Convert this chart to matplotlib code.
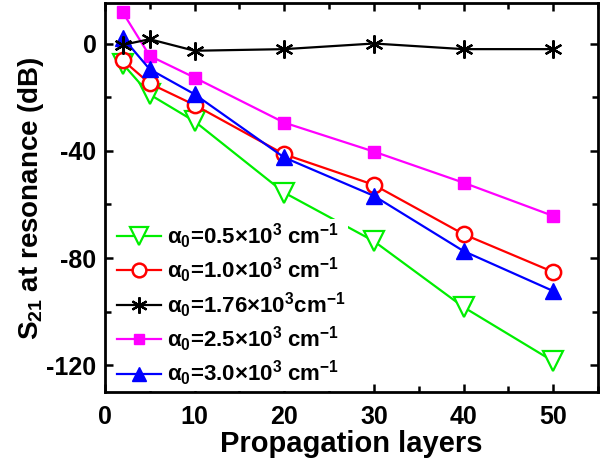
import matplotlib
matplotlib.use("Agg")
import matplotlib.pyplot as plt
from matplotlib.ticker import MultipleLocator

plt.rcParams['font.family'] = ['Liberation Sans', 'DejaVu Sans']
plt.rcParams['font.weight'] = 'bold'
plt.rcParams['mathtext.fontset'] = 'custom'
plt.rcParams['mathtext.rm'] = 'Liberation Sans:bold'
plt.rcParams['mathtext.it'] = 'Liberation Sans:bold'
plt.rcParams['mathtext.bf'] = 'Liberation Sans:bold'
plt.rcParams['mathtext.default'] = 'rm'
plt.rcParams['axes.unicode_minus'] = False

layers = [2, 5, 10, 20, 30, 40, 50]
s21_a05 = [-7.6, -19, -29, -55.6, -73.7, -98.3, -118.5]
s21_a10 = [-6.2, -14.9, -22.9, -41.3, -52.7, -71.1, -85.2]
s21_a176 = [-0.5, 1.6, -2.7, -2.1, 0, -2.1, -2.1]
s21_a25 = [11.6, -4.6, -12.7, -29.5, -40.3, -51.9, -64.3]
s21_a30 = [2.2, -9.6, -18.9, -42.5, -56.8, -77.4, -92.3]

labels = [
    r"α$_0$=0.5×10$^3$ cm$^{-1}$",
    r"α$_0$=1.0×10$^3$ cm$^{-1}$",
    r"α$_0$=1.76×10$^3$cm$^{-1}$",
    r"α$_0$=2.5×10$^3$ cm$^{-1}$",
    r"α$_0$=3.0×10$^3$ cm$^{-1}$",
]

fig = plt.figure(figsize=(6.06, 4.68), dpi=100)
ax = fig.add_axes([0.173, 0.162, 0.814, 0.831])

lw = 1.6
ax.plot(layers, s21_a05, color='#00ee00', lw=lw, marker='v', ms=14,
        mfc='white', mec='#00ee00', mew=1.6, label=labels[0], zorder=3)
ax.plot(layers, s21_a10, color='#ff0000', lw=lw, marker='o', ms=11,
        mfc='white', mec='#ff0000', mew=1.8, label=labels[1], zorder=4)
ax.plot(layers, s21_a176, color='black', lw=lw, marker=(6, 2, 0), ms=13,
        mec='black', mew=1.6, label=labels[2], zorder=5)
ax.plot(layers, s21_a25, color='#ff00ff', lw=lw, marker='s', ms=8,
        mfc='#ff00ff', mec='#ff00ff', label=labels[3], zorder=4)
ax.plot(layers, s21_a30, color='#0000ff', lw=lw, marker='^', ms=11,
        mfc='#0000ff', mec='#0000ff', label=labels[4], zorder=4)

ax.set_xlim(0, 55)
ax.set_ylim(-130, 15)
ax.xaxis.set_major_locator(MultipleLocator(10))
ax.xaxis.set_minor_locator(MultipleLocator(5))
ax.yaxis.set_major_locator(MultipleLocator(40))
ax.yaxis.set_minor_locator(MultipleLocator(20))
ax.tick_params(which='both', direction='in', top=True, right=True, width=1.8)
ax.tick_params(which='major', length=6, labelsize=18)
ax.tick_params(axis='x', which='major', pad=9)
ax.tick_params(axis='y', which='major', pad=6)
ax.tick_params(which='minor', length=4)
for sp in ax.spines.values():
    sp.set_linewidth(2)

ax.set_xlabel("Propagation layers", fontsize=21, fontweight='bold', labelpad=1)
ax.set_ylabel("S$_{21}$ at resonance (dB)", fontsize=20, fontweight='bold')
ax.yaxis.set_label_coords(-0.12, 0.5)

leg = ax.legend(loc='upper left', bbox_to_anchor=(0.02, 0.445), frameon=True,
                fontsize=16, handlelength=2.0, handletextpad=0.25,
                labelspacing=0.22, borderpad=0.1, borderaxespad=0.0,
                markerscale=0.9)
leg.get_frame().set_facecolor('white')
leg.get_frame().set_edgecolor('none')
leg.get_frame().set_alpha(1)
leg.set_zorder(6)

fig.savefig("out.png", dpi=100)
